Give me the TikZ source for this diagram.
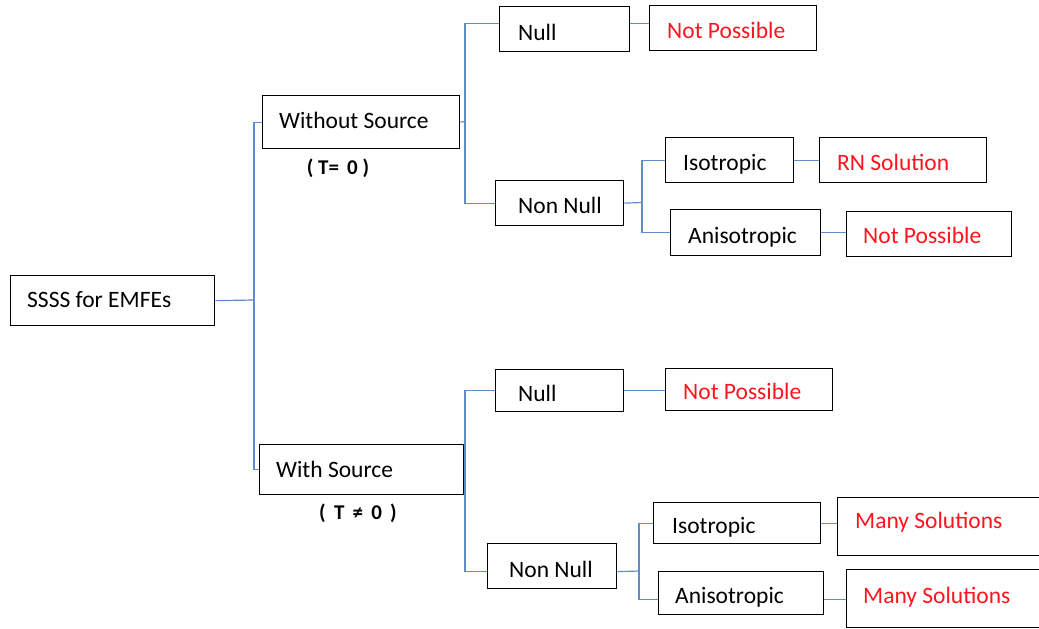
\documentclass[tikz,border=0pt]{standalone}
\usepackage{fontspec}
\setmainfont{Carlito}
\definecolor{linkblue}{RGB}{96,140,200}
\definecolor{resred}{RGB}{255,20,30}
\begin{document}
\begin{tikzpicture}[x=1pt,y=-1pt,
  box/.style={draw=black, line width=1.3pt, rectangle, inner sep=0pt, anchor=north west},
  lbl/.style={anchor=base west, inner sep=0pt, font=\fontsize{23.5}{28}\selectfont, text=black},
  res/.style={lbl, text=resred},
  cond/.style={anchor=center, inner sep=0pt, font=\bfseries\fontsize{21}{25}\selectfont},
  link/.style={draw=linkblue, line width=1.2pt},
]
\useasboundingbox (0,0) rectangle (1039,629);
\clip (0,0) rectangle (1039,629);

% boxes
\node[box, minimum width=204, minimum height=50] (root) at (10,275) {};
\node[box, minimum width=197, minimum height=53] (ws)   at (262,95) {};
\node[box, minimum width=204, minimum height=50] (wis)  at (259,444) {};

\node[box, minimum width=130, minimum height=45] (n1)   at (499,6) {};
\node[box, minimum width=167, minimum height=45] (np1)  at (649,5) {};
\node[box, minimum width=128, minimum height=45] (nn1)  at (495,180) {};
\node[box, minimum width=128, minimum height=45] (iso1) at (665,137) {};
\node[box, minimum width=167, minimum height=45] (rn)   at (819,137) {};
\node[box, minimum width=150, minimum height=46] (an1)  at (670,209) {};
\node[box, minimum width=165, minimum height=45] (np2)  at (846,211) {};

\node[box, minimum width=128, minimum height=42] (n2)   at (495,369) {};
\node[box, minimum width=167, minimum height=42] (np3)  at (665,368) {};
\node[box, minimum width=129, minimum height=45] (nn2)  at (487,543) {};
\node[box, minimum width=167, minimum height=41] (iso2) at (653,502) {};
\node[box, minimum width=213, minimum height=58] (ms1)  at (837,497) {};
\node[box, minimum width=165, minimum height=43] (an2)  at (658,571) {};
\node[box, minimum width=213, minimum height=58] (ms2)  at (846,569) {};

% box texts
\node[lbl] (troot) at (27,307)  {SSSS for EMFEs};
\node[lbl] (tws)   at (279,128) {Without Source};
\node[lbl] (twis)  at (276,477) {With Source};
\node[lbl] (tn1)   at (518,40)  {Null};
\node[res] (tnp1)  at (667,38)  {Not Possible};
\node[lbl] (tnn1)  at (518,213) {Non Null};
\node[lbl] (tiso1) at (683,170) {Isotropic};
\node[res] (trn)   at (837,170) {RN Solution};
\node[lbl] (tan1)  at (688,243) {Anisotropic};
\node[res] (tnp2)  at (863,243) {Not Possible};
\node[lbl] (tn2)   at (518,401) {Null};
\node[res] (tnp3)  at (683,399) {Not Possible};
\node[lbl] (tnn2)  at (509,577) {Non Null};
\node[lbl] (tiso2) at (672,533) {Isotropic};
\node[res] (tms1)  at (855,528) {Many Solutions};
\node[lbl] (tan2)  at (675,603) {Anisotropic};
\node[res] (tms2)  at (863,603) {Many Solutions};

% conditions under the source boxes
\node[cond] (c0) at (338,168) {( T=\, 0 )};
\node[cond] (c1) at (358,513) {(\, T\, ≠\, 0\, )};

% junctions
\coordinate (j0) at (254,300);
\coordinate (j1) at (465,121.5);
\coordinate (j2) at (642,202.5);
\coordinate (j3) at (465,469);
\coordinate (j4) at (639,571);

% connectors
\draw[link] (root.east) -- (j0);
\draw[link] (ws.west) -| (j0);
\draw[link] (wis.west) -| (j0);

\draw[link] (ws.east) -- (j1);
\draw[link] ([yshift=5.5pt]n1.west) -| (j1);
\draw[link] (nn1.west) -| (j1);
\draw[link] ([yshift=5.5pt]n1.east) -- ([yshift=5.5pt]n1.east -| np1.west);

\draw[link] (nn1.east) -- (j2);
\draw[link] (iso1.west) -| (j2);
\draw[link] (an1.west) -| (j2);
\draw[link] (iso1.east) -- (rn.west);
\draw[link] (an1.east) -- (an1.east -| np2.west);

\draw[link] (wis.east) -- (j3);
\draw[link] (n2.west) -| (j3);
\draw[link] ([yshift=-5.5pt]nn2.west) -| (j3);
\draw[link] (n2.east) -- (n2.east -| np3.west);

\draw[link] ([yshift=-5.5pt]nn2.east) -- (j4);
\draw[link] (iso2.west) -| (j4);
\draw[link] ([yshift=-6.5pt]an2.west) -| (j4);
\draw[link] (iso2.east) -- (iso2.east -| ms1.west);
\draw[link] ([yshift=-6.5pt]an2.east) -- ([yshift=-6.5pt]an2.east -| ms2.west);
\end{tikzpicture}
\end{document}
